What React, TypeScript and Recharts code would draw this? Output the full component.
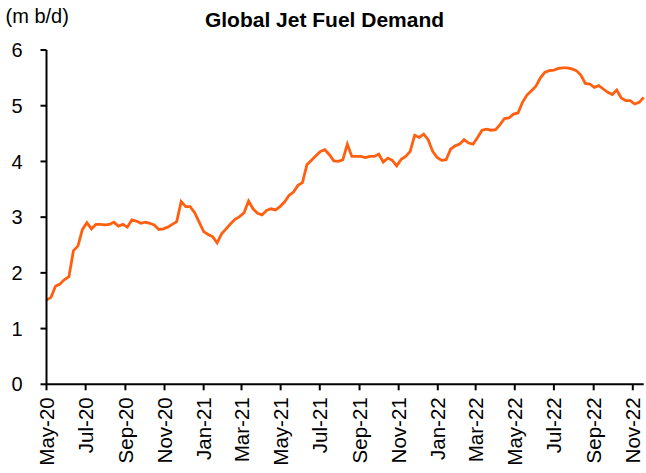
import React from 'react';
import { LineChart, Line, XAxis, YAxis } from 'recharts';

const startDate = Date.UTC(2020, 4, 1);
const DAY = 86400000;

const demand: number[] = [
  1.51, 1.56, 1.76, 1.80, 1.88, 1.93, 2.40, 2.48, 2.78, 2.90,
  2.79, 2.87, 2.87, 2.86, 2.87, 2.91, 2.84, 2.87, 2.82, 2.95,
  2.93, 2.89, 2.91, 2.89, 2.86, 2.78, 2.79, 2.82, 2.87, 2.92,
  3.28, 3.19, 3.19, 3.08, 2.91, 2.74, 2.69, 2.65, 2.54, 2.70,
  2.79, 2.88, 2.96, 3.01, 3.08, 3.29, 3.15, 3.07, 3.04, 3.12,
  3.15, 3.13, 3.19, 3.27, 3.39, 3.45, 3.57, 3.62, 3.94, 4.02,
  4.10, 4.18, 4.21, 4.12, 4.01, 4.00, 4.03, 4.31, 4.09, 4.09,
  4.09, 4.07, 4.09, 4.09, 4.13, 3.99, 4.06, 4.02, 3.92, 4.04,
  4.09, 4.18, 4.47, 4.43, 4.49, 4.39, 4.18, 4.07, 4.02, 4.03,
  4.22, 4.28, 4.31, 4.39, 4.33, 4.31, 4.43, 4.56, 4.58, 4.56,
  4.57, 4.66, 4.77, 4.78, 4.85, 4.87, 5.06, 5.19, 5.27, 5.35,
  5.50, 5.60, 5.63, 5.64, 5.67, 5.68, 5.68, 5.66, 5.63, 5.55,
  5.40, 5.39, 5.33, 5.36, 5.30, 5.24, 5.20, 5.28, 5.14, 5.09,
  5.09, 5.03, 5.06, 5.15,
];

const tickLabels: string[] = [
  'May-20', 'Jul-20', 'Sep-20', 'Nov-20', 'Jan-21', 'Mar-21', 'May-21', 'Jul-21',
  'Sep-21', 'Nov-21', 'Jan-22', 'Mar-22', 'May-22', 'Jul-22', 'Sep-22', 'Nov-22',
];
const tickMonths: [number, number][] = [
  [2020, 4], [2020, 6], [2020, 8], [2020, 10], [2021, 0], [2021, 2], [2021, 4], [2021, 6],
  [2021, 8], [2021, 10], [2022, 0], [2022, 2], [2022, 4], [2022, 6], [2022, 8], [2022, 10],
];
const yTicks: number[] = [0, 1, 2, 3, 4, 5, 6];

const tickDays = tickMonths.map(([y, m]) => Math.round((Date.UTC(y, m, 1) - startDate) / DAY));
const labelByDay: Record<number, string> = {};
tickDays.forEach((d, i) => { labelByDay[d] = tickLabels[i]; });

const data = demand.map((v, i) => ({ day: i * 7, value: v }));
const lastDay = (demand.length - 1) * 7;

const FONT = '"Liberation Sans", Arial, sans-serif';

const XTick = (props: any) => {
  const { x, y, payload } = props;
  return (
    <text
      x={x}
      y={y}
      transform={`rotate(-90 ${x} ${y})`}
      textAnchor="end"
      dy="0.36em"
      fontSize={20.5}
      fontFamily={FONT}
      fill="#000"
    >
      {labelByDay[payload.value]}
    </text>
  );
};

export default function App() {
  return (
    <div style={{ position: 'absolute', left: 0, top: 0, width: 646, height: 473, background: '#fff' }}>
      <LineChart
        width={646}
        height={473}
        data={data}
        margin={{ top: 50, right: 2.3, bottom: 0, left: 0 }}
      >
        <XAxis
          dataKey="day"
          type="number"
          domain={[0, lastDay]}
          ticks={tickDays}
          interval={0}
          height={88.7}
          tickSize={6}
          tickMargin={7}
          tick={<XTick />}
          axisLine={{ stroke: '#000', strokeWidth: 2 }}
          tickLine={{ stroke: '#000', strokeWidth: 2 }}
        />
        <YAxis
          type="number"
          domain={[0, 6]}
          ticks={yTicks}
          interval={0}
          width={46.5}
          tickSize={6}
          tickMargin={18}
          tick={{ fontSize: 20, fontFamily: FONT, fill: '#000' }}
          axisLine={{ stroke: '#000', strokeWidth: 2 }}
          tickLine={{ stroke: '#000', strokeWidth: 2 }}
        />
        <Line
          type="linear"
          dataKey="value"
          stroke="#FF5F0F"
          strokeWidth={2.8}
          dot={false}
          activeDot={false}
          isAnimationActive={false}
        />
      </LineChart>
      <svg
        width={646}
        height={473}
        style={{ position: 'absolute', left: 0, top: 0, pointerEvents: 'none' }}
      >
        <text x={324.5} y={26.5} textAnchor="middle" fontSize={21} fontWeight="bold" fontFamily={FONT} fill="#000">
          Global Jet Fuel Demand
        </text>
        <text x={5.5} y={23.3} fontSize={20} fontFamily={FONT} fill="#000">
          (m b/d)
        </text>
      </svg>
    </div>
  );
}
